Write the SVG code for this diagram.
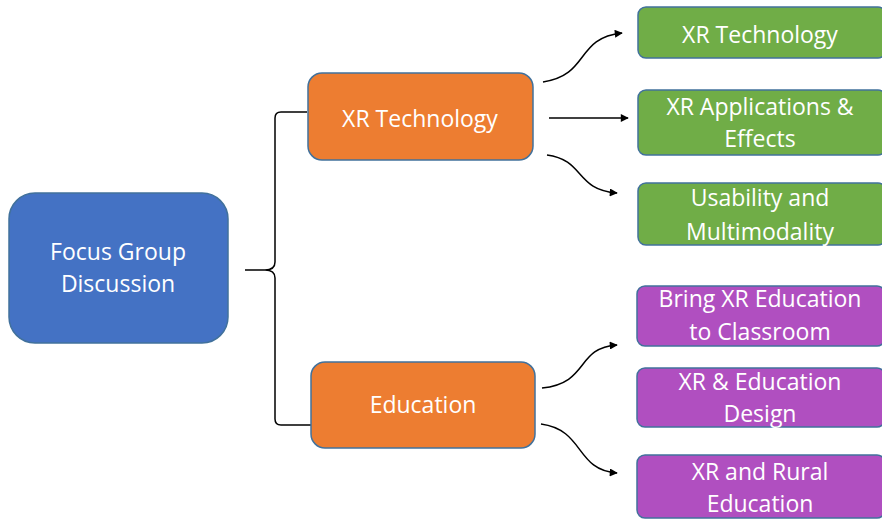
<svg xmlns="http://www.w3.org/2000/svg" width="882" height="519" viewBox="0 0 882 519">
<style>
text{font-family:"Open Sans","Noto Sans","Liberation Sans",sans-serif;font-size:23px;font-weight:500;fill:#fff;text-anchor:middle}
.box{stroke:#41719C;stroke-width:1.5}
.blue{fill:#4472C4}.orange{fill:#ED7D31}.green{fill:#70AD47}.purple{fill:#B04FC0}
.c{fill:none;stroke:#000;stroke-width:1.5}
</style>
<defs>
<marker id="ah" viewBox="0 0 10 10" refX="9" refY="5" markerWidth="9" markerHeight="8" orient="auto" markerUnits="userSpaceOnUse"><path d="M0,0 L10,5 L0,10 z" fill="#000"/></marker>
</defs>
<rect width="882" height="519" fill="#fff"/>
<g id="connectors">
<path class="c" d="M307,112 L281,112 Q275,112 275,118 L275,262 Q275,270 265,270 L245,270 L265,270 Q275,270 275,278 L275,419 Q275,425 281,425 L311,425"/>
<path class="c" marker-end="url(#ah)" d="M543,82 C590,75 575,38 622,33"/>
<path class="c" marker-end="url(#ah)" d="M549,118 L628,118"/>
<path class="c" marker-end="url(#ah)" d="M547,155 C585,160 575,190 617,193"/>
<path class="c" marker-end="url(#ah)" d="M542,388 C590,383 575,348 617,345"/>
<path class="c" marker-end="url(#ah)" d="M541,424 C585,430 575,470 617,473"/>
</g>
<g id="focus"><rect class="box blue" x="9" y="193" width="219" height="150" rx="26"/><text x="118" y="260">Focus Group</text><text x="118" y="292">Discussion</text></g>
<g id="xrtech"><rect class="box orange" x="308" y="73" width="225" height="87" rx="14"/><text x="420" y="127">XR Technology</text></g>
<g id="education"><rect class="box orange" x="311" y="362" width="224" height="86" rx="14"/><text x="423" y="413">Education</text></g>
<g id="g1"><rect class="box green" x="638" y="7" width="248" height="51" rx="8"/><text x="760" y="43">XR Technology</text></g>
<g id="g2"><rect class="box green" x="638" y="90" width="248" height="65" rx="8"/><text x="760" y="115">XR Applications &amp;</text><text x="760" y="147">Effects</text></g>
<g id="g3"><rect class="box green" x="638" y="183" width="248" height="62" rx="8"/><text x="760" y="206">Usability and</text><text x="760" y="240">Multimodality</text></g>
<g id="p1"><rect class="box purple" x="637" y="286" width="248" height="60" rx="8"/><text x="760" y="307">Bring XR Education</text><text x="760" y="340">to Classroom</text></g>
<g id="p2"><rect class="box purple" x="637" y="368" width="248" height="59" rx="8"/><text x="760" y="390">XR &amp; Education</text><text x="760" y="422">Design</text></g>
<g id="p3"><rect class="box purple" x="637" y="455" width="248" height="63" rx="8"/><text x="760" y="480">XR and Rural</text><text x="760" y="512">Education</text></g>
</svg>
